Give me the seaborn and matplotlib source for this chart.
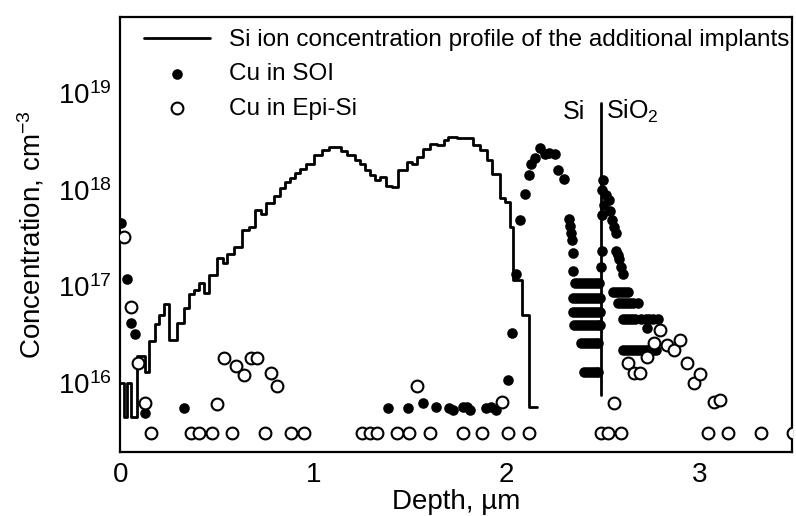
import numpy as np
import pandas as pd
import matplotlib
matplotlib.use("Agg")
import matplotlib.pyplot as plt
import seaborn as sns
from matplotlib.ticker import FixedLocator, NullLocator, LogFormatterMathtext

# ---------------- data ----------------
# Si ion implant profile (histogram steps): left bin edges (um) + final edge
si_edges = [0.000, 0.021, 0.036, 0.057, 0.089, 0.130, 0.151, 0.182, 0.203, 0.229,
            0.255, 0.292, 0.328, 0.354, 0.380, 0.406, 0.432, 0.458, 0.500, 0.531,
            0.552, 0.589, 0.630, 0.667, 0.698, 0.729, 0.755, 0.797, 0.828, 0.854,
            0.880, 0.906, 0.932, 0.964, 1.005, 1.047, 1.083, 1.146, 1.177, 1.214,
            1.240, 1.266, 1.292, 1.318, 1.344, 1.375, 1.406, 1.438, 1.484, 1.510,
            1.536, 1.568, 1.604, 1.641, 1.677, 1.698, 1.745, 1.828, 1.865, 1.901,
            1.927, 1.969, 1.995, 2.021, 2.036, 2.083, 2.115, 2.161]
si_conc = [1.0e16, 4.4e15, 1.0e16, 4.4e15, 1.9e16, 1.3e16, 2.7e16, 4.1e16, 5.1e16, 6.5e16,
           2.8e16, 4.2e16, 5.9e16, 8.3e16, 9.1e16, 1.07e17, 8.5e16, 1.32e17, 1.95e17, 1.74e17,
           2.14e17, 2.57e17, 3.8e17, 4.1e17, 6.2e17, 5.6e17, 7.2e17, 8.5e17, 1.05e18, 1.2e18,
           1.32e18, 1.48e18, 1.62e18, 1.82e18, 2.3e18, 2.57e18, 2.75e18, 2.5e18, 2.3e18, 2.04e18,
           1.82e18, 1.58e18, 1.41e18, 1.26e18, 1.35e18, 1.1e18, 1.07e18, 1.58e18, 1.95e18, 1.86e18,
           2.2e18, 2.63e18, 2.95e18, 2.88e18, 3.24e18, 3.47e18, 3.39e18, 2.88e18, 2.57e18, 2.04e18,
           1.45e18, 8.1e17, 7.4e17, 4.1e17, 1.15e17, 5.0e16, 5.6e15]

# Cu in SOI (filled circles)
soi_depth = [0.005, 0.036, 0.057, 0.078, 0.130, 0.333,
             1.385, 1.490, 1.568, 1.635, 1.703, 1.724, 1.776, 1.797, 1.813, 1.896, 1.922, 1.948,
             2.010, 2.031, 2.052, 2.073, 2.099, 2.115, 2.130, 2.151, 2.177, 2.198, 2.219, 2.250,
             2.266, 2.297,
             2.323, 2.328, 2.333, 2.339, 2.344, 2.344,
             2.354, 2.370, 2.385, 2.401, 2.417, 2.432, 2.448, 2.464, 2.479,
             2.344, 2.359, 2.375, 2.391, 2.406, 2.422, 2.438, 2.453, 2.469, 2.484,
             2.344, 2.359, 2.375, 2.391, 2.406, 2.422, 2.438, 2.453, 2.469, 2.484,
             2.349, 2.365, 2.380, 2.396, 2.411, 2.427, 2.443, 2.458, 2.474, 2.484,
             2.385, 2.401, 2.417, 2.432, 2.448, 2.464, 2.474,
             2.401, 2.417, 2.432, 2.448, 2.464, 2.474,
             2.500, 2.495, 2.516, 2.531, 2.505, 2.536, 2.495, 2.547, 2.557, 2.568,
             2.495, 2.490,
             2.568, 2.578, 2.583, 2.594, 2.604,
             2.552, 2.568, 2.583, 2.599, 2.615, 2.630,
             2.578, 2.594, 2.609, 2.625, 2.641, 2.656, 2.682,
             2.604, 2.620, 2.635, 2.651, 2.667, 2.698, 2.724, 2.740, 2.760, 2.786,
             2.729,
             2.604, 2.620, 2.635, 2.651, 2.667, 2.682, 2.698, 2.714, 2.729, 2.745, 2.760, 2.776]
soi_conc = [4.5e17, 1.2e17, 4.2e16, 3.2e16, 4.9e15, 5.5e15,
            5.5e15, 5.5e15, 6.2e15, 5.7e15, 5.5e15, 5.3e15, 5.7e15, 5.7e15, 5.3e15, 5.5e15, 5.7e15, 5.3e15,
            1.07e16, 3.3e16, 1.35e17, 4.8e17, 9.1e17, 1.4e18, 1.86e18, 2.1e18, 2.7e18, 2.35e18, 2.4e18, 2.35e18,
            1.6e18, 1.3e18,
            5.0e17, 4.2e17, 3.6e17, 3.0e17, 2.2e17, 1.45e17,
            1.07e17, 1.07e17, 1.07e17, 1.07e17, 1.07e17, 1.07e17, 1.07e17, 1.07e17, 1.07e17,
            7.6e16, 7.6e16, 7.6e16, 7.6e16, 7.6e16, 7.6e16, 7.6e16, 7.6e16, 7.6e16, 7.6e16,
            5.4e16, 5.4e16, 5.4e16, 5.4e16, 5.4e16, 5.4e16, 5.4e16, 5.4e16, 5.4e16, 5.4e16,
            4.0e16, 4.0e16, 4.0e16, 4.0e16, 4.0e16, 4.0e16, 4.0e16, 4.0e16, 4.0e16, 4.0e16,
            2.6e16, 2.6e16, 2.6e16, 2.6e16, 2.6e16, 2.6e16, 2.6e16,
            1.3e16, 1.3e16, 1.3e16, 1.3e16, 1.3e16, 1.3e16,
            1.26e18, 9.8e17, 8.7e17, 7.8e17, 6.9e17, 6.0e17, 5.4e17, 4.8e17, 4.1e17, 3.6e17,
            2.3e17, 1.6e17,
            2.3e17, 2.1e17, 1.9e17, 1.6e17, 1.35e17,
            8.7e16, 8.7e16, 8.7e16, 8.7e16, 8.7e16, 8.7e16,
            6.7e16, 6.7e16, 6.7e16, 6.7e16, 6.7e16, 6.7e16, 6.7e16,
            4.6e16, 4.6e16, 4.6e16, 4.6e16, 4.6e16, 4.6e16, 4.6e16, 4.6e16, 4.6e16, 4.6e16,
            3.7e16,
            2.2e16, 2.2e16, 2.2e16, 2.2e16, 2.2e16, 2.2e16, 2.2e16, 2.2e16, 2.2e16, 2.2e16, 2.2e16, 2.2e16]

# Cu in Epi-Si (open circles)
epi_depth = [0.021, 0.057, 0.094, 0.130, 0.161,
             0.365, 0.406, 0.474, 0.578, 0.750, 0.885, 0.953, 1.255, 1.292, 1.328, 1.432,
             1.495, 1.604, 1.776, 1.875, 2.010, 2.115, 2.490, 2.526, 2.594, 3.047, 3.146,
             3.318, 3.484,
             0.500, 0.536, 0.599, 0.641, 0.677, 0.708, 0.781, 0.813, 1.536, 1.979,
             2.557, 2.630, 2.661, 2.693, 2.729, 2.766, 2.797, 2.833, 2.870, 2.901, 2.938,
             2.974, 3.005, 3.078, 3.109]
epi_conc = [3.2e17, 6.1e16, 1.6e16, 6.2e15, 3.0e15,
            3.0e15, 3.0e15, 3.0e15, 3.0e15, 3.0e15, 3.0e15, 3.0e15, 3.0e15, 3.0e15, 3.0e15, 3.0e15,
            3.0e15, 3.0e15, 3.0e15, 3.0e15, 3.0e15, 3.0e15, 3.0e15, 3.0e15, 3.0e15, 3.0e15, 3.0e15,
            3.0e15, 3.0e15,
            6.0e15, 1.8e16, 1.5e16, 1.2e16, 1.8e16, 1.8e16, 1.27e16, 9.3e15, 9.3e15, 6.3e15,
            6.2e15, 1.6e16, 1.27e16, 1.27e16, 1.85e16, 2.6e16, 3.5e16, 2.45e16, 2.2e16, 2.8e16, 1.6e16,
            1.0e16, 1.24e16, 6.3e15, 6.6e15]

y_ticks = [1e16, 1e17, 1e18, 1e19]
x_ticks = [0, 1, 2, 3]
interface_depth = 2.49

labels = ["Si ion concentration profile of the additional implants",
          "Cu in SOI", "Cu in Epi-Si"]

# ---------------- style ----------------
sns.set_theme(style="white")
plt.rcParams["font.family"] = ["Liberation Sans", "DejaVu Sans"]
plt.rcParams["mathtext.fontset"] = "custom"
plt.rcParams["mathtext.rm"] = "Liberation Sans"
plt.rcParams["mathtext.it"] = "Liberation Sans:italic"
plt.rcParams["mathtext.bf"] = "Liberation Sans:bold"
plt.rcParams["text.color"] = "black"
plt.rcParams["axes.labelcolor"] = "black"
plt.rcParams["xtick.color"] = "black"
plt.rcParams["ytick.color"] = "black"

fig = plt.figure(figsize=(7.96, 5.16), dpi=100)
ax = fig.add_axes([0.151, 0.124, 0.844, 0.843])

si_df = pd.DataFrame({"depth": si_edges, "conc": si_conc + [si_conc[-1]]})
soi_df = pd.DataFrame({"depth": soi_depth, "conc": soi_conc})
epi_df = pd.DataFrame({"depth": epi_depth, "conc": epi_conc})

sns.lineplot(data=si_df, x="depth", y="conc", ax=ax, drawstyle="steps-post",
             color="black", linewidth=2.0, estimator=None, sort=False,
             label=labels[0])
sns.scatterplot(data=soi_df, x="depth", y="conc", ax=ax, color="black",
                s=58, linewidth=0, marker="o", label=labels[1], zorder=3)
sns.scatterplot(data=epi_df, x="depth", y="conc", ax=ax, facecolor="white",
                edgecolor="black", s=72, linewidth=1.5, marker="o",
                label=labels[2], zorder=4)

# Si / SiO2 interface
ax.plot([interface_depth, interface_depth], [7.5e15, 7.9e18], color="black",
        linewidth=2.0, zorder=2)
ax.text(interface_depth - 0.08, 6.4e18, "Si", ha="right", va="center", fontsize=18)
ax.text(interface_depth + 0.025, 6.4e18, "SiO$_2$", ha="left", va="center", fontsize=18)

ax.set_yscale("log")
ax.set_xlim(0, 3.48)
ax.set_ylim(1.93e15, 6.1e19)
ax.yaxis.set_major_locator(FixedLocator(y_ticks))
ax.yaxis.set_major_formatter(LogFormatterMathtext())
ax.yaxis.set_minor_locator(NullLocator())
ax.xaxis.set_major_locator(FixedLocator(x_ticks))
ax.xaxis.set_minor_locator(NullLocator())

ax.tick_params(axis="y", direction="in", length=9, width=1.5, labelsize=20,
               pad=6, colors="black")
ax.tick_params(axis="x", direction="out", length=6, width=1.5, labelsize=20,
               pad=1, colors="black")
for sp in ax.spines.values():
    sp.set_color("black")
    sp.set_linewidth(1.6)

ax.set_xlabel("Depth, µm", fontsize=20)
ax.xaxis.set_label_coords(0.5, -0.084)
ax.set_ylabel("Concentration, cm$^{-3}$", fontsize=20, labelpad=8)

leg = ax.legend(loc="upper left", bbox_to_anchor=(0.036, 0.972), frameon=False,
                fontsize=17.5, handlelength=2.7, handletextpad=0.8,
                labelspacing=0.5, borderpad=0, borderaxespad=0)
for t in leg.get_texts():
    t.set_color("black")

fig.savefig("out.png", dpi=100)
